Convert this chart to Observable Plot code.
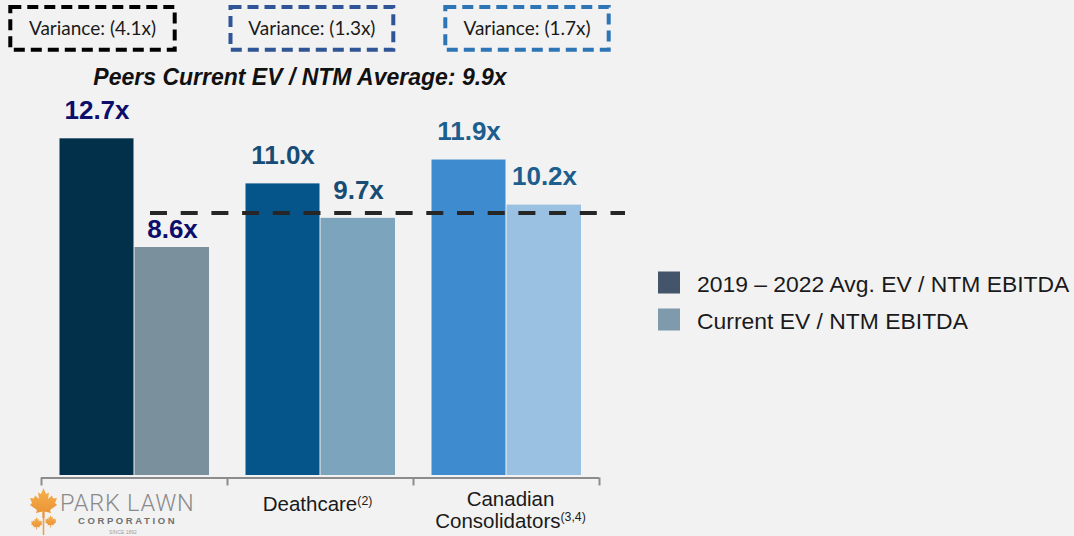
<!DOCTYPE html>
<html>
<head>
<meta charset="utf-8">
<script src="https://cdn.jsdelivr.net/npm/d3@7"></script>
<script src="https://cdn.jsdelivr.net/npm/@observablehq/plot@0.6"></script>
<style>
  html, body { margin: 0; padding: 0; background: #f2f2f2; }
  #wrap { position: relative; width: 1074px; height: 536px; overflow: hidden; background: #f2f2f2; }
  #chart { position: absolute; left: 0; top: 90px; }
  #overlay { position: absolute; left: 0; top: 0; pointer-events: none; }
</style>
</head>
<body>
<div id="wrap">
  <div id="chart"></div>
  <svg id="overlay" width="1074" height="536"></svg>
</div>
<script>
// ---------- data ----------
const categories = ["Park Lawn", "Deathcare", "Canadian Consolidators"];
const categoryLabels = ["PARK LAWN", "Deathcare^(2)", "Canadian\nConsolidators^(3,4)"];
const avgValues = [12.7, 11.0, 11.9];
const currentValues = [8.6, 9.7, 10.2];
const peerAverage = 9.9;
const varianceLabels = ["(4.1x)", "(1.3x)", "(1.7x)"];
const seriesNames = ["2019 \u2013 2022 Avg. EV / NTM EBITDA", "Current EV / NTM EBITDA"];
const titleText = "Peers Current EV / NTM Average: 9.9x";

// ---------- styles ----------
const avgColors = ["#022f4a", "#06558a", "#3e8bcf"];
const currentColors = ["#7a909c", "#7ca4bd", "#9ac1e1"];
const labelColors = ["#0d0d6c", "#174d74", "#1c5e8d"];
const legendColors = ["#44546a", "#7f9aab"];
const boxColors = ["#000000", "#2f5597", "#2e75b6"];
const FONT = "'Liberation Sans', Arial, Helvetica, sans-serif";

const rows = categories.map((c, i) => ({
  category: c, label: categoryLabels[i], avg: avgValues[i], current: currentValues[i], i
}));
const fmt = v => d3.format(".1f")(v) + "x";

const pxPerUnit = 26.51;
const base = 385;
const labelStyle = { fontSize: 26, fontWeight: "bold", lineAnchor: "middle" };
// a current-value label whose normal spot would sit on the dashed line is tucked closer to its bar
const nearLine = d => {
  const lo = d.current + 17 / pxPerUnit, hi = d.current + 41 / pxPerUnit;
  return peerAverage > lo && peerAverage < hi;
};

const chart = Plot.plot({
  width: 640,
  height: 446,
  marginLeft: 150,
  marginRight: 15,
  marginTop: 0,
  marginBottom: 0,
  style: { background: "transparent", fontFamily: FONT, overflow: "visible" },
  x: { type: "band", domain: categories, range: [40.5, 598.5], padding: 0, axis: null },
  y: { domain: [0, 14], range: [base, base - 14 * pxPerUnit], axis: null },
  color: { type: "identity" },
  marks: [
    Plot.barY(rows, { x: "category", y: "avg", fill: d => avgColors[d.i], insetLeft: 18.5, insetRight: 93.5 }),
    Plot.barY(rows, { x: "category", y: "current", fill: d => currentColors[d.i], insetLeft: 93.5, insetRight: 18 }),
    Plot.ruleY([peerAverage], { stroke: "#262626", strokeWidth: 4, strokeDasharray: "17,13.7" }),
    Plot.text(rows, { x: "category", y: "avg", text: d => fmt(d.avg), dx: -37.5, dy: -28,
      fill: d => labelColors[d.i], ...labelStyle }),
    Plot.text(rows.filter(d => !nearLine(d)), { x: "category", y: "current", text: d => fmt(d.current), dx: 38, dy: -28,
      fill: d => labelColors[d.i], ...labelStyle }),
    Plot.text(rows.filter(nearLine), { x: "category", y: "current", text: d => fmt(d.current), dx: 38, dy: -18,
      fill: d => labelColors[d.i], ...labelStyle }),
    Plot.tickY(categories, { x: d => d, y: () => 0, stroke: "#8c8c8c", strokeWidth: 2, dy: 2.5 }),
    Plot.ruleX(categories, { x: d => d, y1: 0, y2: -0.3, dx: -93, dy: 2.5, stroke: "#8c8c8c", strokeWidth: 2 }),
    Plot.ruleX([categories[categories.length - 1]], { x: d => d, y1: 0, y2: -0.3, dx: 93, dy: 2.5, stroke: "#8c8c8c", strokeWidth: 2 }),
    Plot.text(rows.filter(d => d.i > 0 && !d.label.includes("\n")), { x: "category", y: () => 0, text: "label",
      fontSize: 20.5, dy: 29.4, dx: -3, fill: "#1a1a1a", lineAnchor: "middle" }),
    Plot.text(rows.filter(d => d.i > 0 && d.label.includes("\n")), { x: "category", y: () => 0, text: "label",
      fontSize: 20.5, dy: 34.3, dx: 4, fill: "#1a1a1a", lineAnchor: "middle", lineHeight: 1.06 })
  ]
});

// superscripts
d3.select(chart).selectAll("text, tspan").each(function () {
  if (this.childNodes.length === 1 && this.firstChild.nodeType === 3 && this.textContent.includes("^")) {
    const [main, sup] = this.textContent.split("^");
    this.textContent = main;
    d3.select(this).append("tspan").attr("font-size", "0.6em").attr("dy", -6.5).text(sup);
  }
});

document.getElementById("chart").appendChild(chart);

// ---------- overlay: variance boxes, title, legend, logo ----------
const ov = d3.select("#overlay");
const boxLayout = [{ x: 10.3, w: 164.4 }, { x: 230.5, w: 162.8 }, { x: 445.3, w: 163.4 }];
varianceLabels.forEach((v, i) => {
  const b = boxLayout[i];
  ov.append("rect").attr("x", b.x).attr("y", 7).attr("width", b.w).attr("height", 42.7)
    .attr("fill", "none").attr("stroke", boxColors[i]).attr("stroke-width", 4)
    .attr("stroke-dasharray", "11,6");
  ov.append("text").attr("x", b.x + b.w / 2).attr("y", 35).attr("text-anchor", "middle")
    .attr("font-family", "Lato, 'Liberation Sans', sans-serif").attr("font-size", 19)
    .attr("fill", "#1a1a1a").text("Variance: " + v);
});

ov.append("text").attr("x", 300).attr("y", 85).attr("text-anchor", "middle")
  .attr("font-family", FONT).attr("font-size", 23).attr("font-weight", "bold")
  .attr("font-style", "italic").attr("fill", "#111").text(titleText);

const legY = [271.5, 308.5];
seriesNames.forEach((s, i) => {
  ov.append("rect").attr("x", 658).attr("y", legY[i]).attr("width", 22).attr("height", 22)
    .attr("fill", legendColors[i]);
  ov.append("text").attr("x", 697).attr("y", legY[i] + 20).attr("font-family", FONT)
    .attr("font-size", 22.9).attr("fill", "#1a1a1a").text(s);
});

// Park Lawn logo (category label for first group)
const leafPts = [[13.5,0],[16,6],[19,4.5],[18,11],[22,7.5],[23,10.5],[27,10],[25,15],[27,17],[20,22],[21,25],[14.5,23.5],[14.5,30],[12.5,30],[12.5,23.5],[6,25],[7,22],[0,17],[2,15],[0,10],[4,10.5],[5,7.5],[9,11],[8,4.5],[11,6]];
const leafPath = "M" + leafPts.map(p => p.join(",")).join("L") + "Z";
const logo = ov.append("g");
const grad = ov.append("defs").append("linearGradient").attr("id", "leafg").attr("x1", 0).attr("y1", 0).attr("x2", 0).attr("y2", 1);
grad.append("stop").attr("offset", "0%").attr("stop-color", "#f7b04a");
grad.append("stop").attr("offset", "100%").attr("stop-color", "#e88f34");
logo.append("line").attr("x1", 43.5).attr("y1", 510).attr("x2", 43.5).attr("y2", 535)
  .attr("stroke", "#eda050").attr("stroke-width", 1.6);
logo.append("path").attr("d", leafPath).attr("fill", "url(#leafg)").attr("transform", "translate(30,488)");
logo.append("path").attr("d", leafPath).attr("fill", "url(#leafg)").attr("transform", "translate(31,517) scale(0.42)");
logo.append("path").attr("d", leafPath).attr("fill", "url(#leafg)").attr("transform", "translate(45,515) scale(0.42)");
logo.append("text").attr("x", 60).attr("y", 510.7).attr("font-family", "Roboto, 'Liberation Sans', sans-serif")
  .attr("font-weight", 300).attr("font-size", 23.5).attr("letter-spacing", 0.8).attr("fill", "#8a8a8a").text(categoryLabels[0]);
logo.append("text").attr("x", 78).attr("y", 524).attr("font-family", FONT)
  .attr("font-weight", "bold").attr("font-size", 9.5).attr("letter-spacing", 2.6)
  .attr("fill", "#6f6f6f").text("CORPORATION");
logo.append("text").attr("x", 123).attr("y", 533.5).attr("text-anchor", "middle").attr("font-family", FONT)
  .attr("font-size", 5).attr("fill", "#a0a0a0").text("SINCE 1892");
</script>
</body>
</html>
